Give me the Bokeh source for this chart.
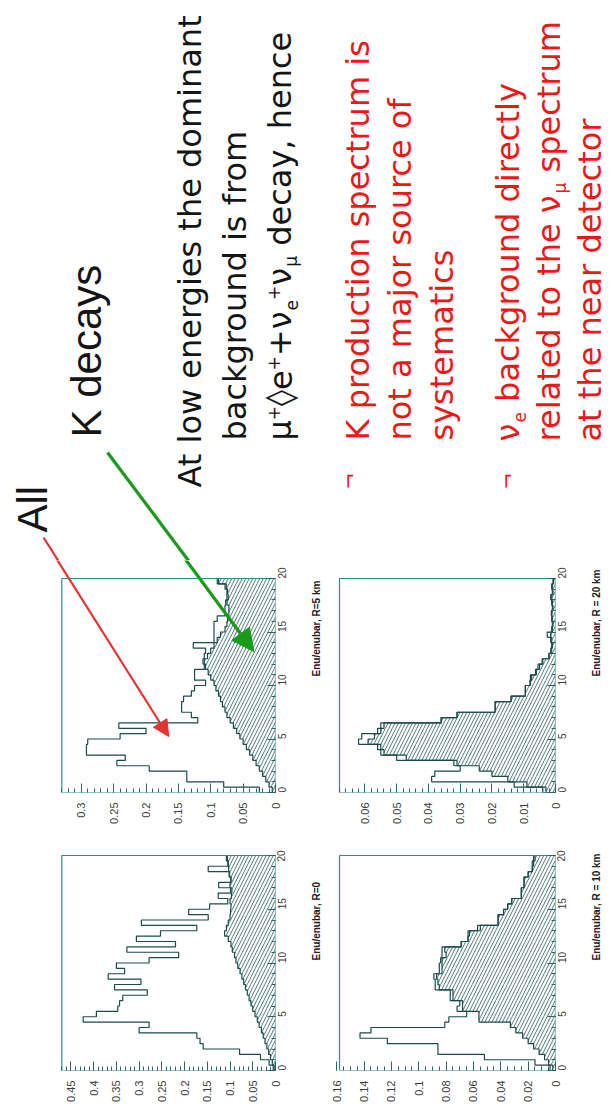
import math
from bokeh.plotting import figure
from bokeh.layouts import column, row
from bokeh.models import Range1d, FixedTicker, Arrow, NormalHead
from bokeh.core.properties import value
from bokeh.embed import file_html
from bokeh.resources import INLINE

# ---------------------------------------------------------------- data
BIN_WIDTH = 0.5
E_MAX = 20

# R = 0
all_R0 = [0.005, 0.014, 0.033, 0.079, 0.159, 0.166, 0.173, 0.300, 0.278, 0.423,
          0.394, 0.347, 0.343, 0.336, 0.282, 0.354, 0.296, 0.368, 0.332, 0.350,
          0.278, 0.213, 0.327, 0.220, 0.306, 0.253, 0.173, 0.295, 0.148, 0.191,
          0.145, 0.105, 0.126, 0.099, 0.125, 0.098, 0.102, 0.148, 0.105, 0.108]
k_R0 = [0.003, 0.007, 0.011, 0.015, 0.019, 0.023, 0.027, 0.031, 0.036, 0.040,
        0.045, 0.050, 0.054, 0.058, 0.062, 0.066, 0.070, 0.074, 0.078, 0.083,
        0.087, 0.090, 0.095, 0.098, 0.104, 0.112, 0.108, 0.104, 0.100, 0.099,
        0.098, 0.100, 0.097, 0.096, 0.100, 0.098, 0.101, 0.103, 0.104, 0.106]

# R = 5 km
all_R5 = [0.025, 0.080, 0.137, 0.137, 0.195, 0.245, 0.232, 0.292, 0.292, 0.290,
          0.240, 0.200, 0.242, 0.120, 0.130, 0.145, 0.145, 0.142, 0.130, 0.125,
          0.108, 0.125, 0.125, 0.110, 0.112, 0.110, 0.108, 0.127, 0.095, 0.095,
          0.095, 0.095, 0.090, 0.078, 0.078, 0.077, 0.075, 0.075, 0.078, 0.090]
k_R5 = [0.005, 0.010, 0.015, 0.020, 0.025, 0.030, 0.035, 0.040, 0.045, 0.050,
        0.055, 0.060, 0.065, 0.070, 0.075, 0.078, 0.082, 0.085, 0.088, 0.092,
        0.095, 0.100, 0.104, 0.108, 0.110, 0.105, 0.100, 0.095, 0.090, 0.085,
        0.078, 0.075, 0.074, 0.072, 0.072, 0.075, 0.073, 0.074, 0.076, 0.088]

# R = 10 km
all_R10 = [0.004, 0.015, 0.052, 0.086, 0.086, 0.123, 0.143, 0.135, 0.081, 0.078,
           0.065, 0.072, 0.070, 0.077, 0.077, 0.088, 0.088, 0.089, 0.085, 0.085,
           0.084, 0.083, 0.083, 0.069, 0.064, 0.064, 0.057, 0.042, 0.042, 0.038,
           0.035, 0.032, 0.025, 0.025, 0.023, 0.023, 0.020, 0.017, 0.017, 0.016]
k_R10 = [0.002, 0.005, 0.008, 0.012, 0.016, 0.020, 0.024, 0.029, 0.033, 0.056,
         0.056, 0.068, 0.068, 0.075, 0.075, 0.085, 0.086, 0.087, 0.083, 0.083,
         0.083, 0.080, 0.081, 0.069, 0.064, 0.063, 0.055, 0.042, 0.042, 0.038,
         0.035, 0.032, 0.025, 0.025, 0.023, 0.023, 0.020, 0.017, 0.016, 0.015]

# R = 20 km
all_R20 = [0.004, 0.013, 0.039, 0.038, 0.030, 0.032, 0.050, 0.055, 0.056, 0.062,
           0.061, 0.056, 0.055, 0.036, 0.031, 0.019, 0.019, 0.014, 0.0095, 0.0095,
           0.0080, 0.0079, 0.0063, 0.0055, 0.0042, 0.0021, 0.0015, 0.0012, 0.0015, 0.0026,
           0.0012, 0.0010, 0.0012, 0.0013, 0.0010, 0.0012, 0.0015, 0.0010, 0.0012, 0.0008]
k_R20 = [0.003, 0.009, 0.015, 0.020, 0.024, 0.031, 0.047, 0.054, 0.055, 0.059,
         0.057, 0.055, 0.054, 0.036, 0.031, 0.019, 0.019, 0.014, 0.0095, 0.0095,
         0.0080, 0.0075, 0.0060, 0.0050, 0.0040, 0.0020, 0.0012, 0.0010, 0.0012, 0.0015,
         0.0010, 0.0008, 0.0010, 0.0011, 0.0008, 0.0010, 0.0012, 0.0008, 0.0010, 0.0006]

# axis ticks
energy_ticks = [0, 5, 10, 15, 20]
energy_tick_labels = ["0", "5", "10", "15", "20"]
ticks_R0 = [0, 0.05, 0.1, 0.15, 0.2, 0.25, 0.3, 0.35, 0.4, 0.45]
labels_R0 = ["0", "0.05", "0.1", "0.15", "0.2", "0.25", "0.3", "0.35", "0.4", "0.45"]
ticks_R5 = [0, 0.05, 0.1, 0.15, 0.2, 0.25, 0.3]
labels_R5 = ["0", "0.05", "0.1", "0.15", "0.2", "0.25", "0.3"]
ticks_R10 = [0, 0.02, 0.04, 0.06, 0.08, 0.1, 0.12, 0.14, 0.16]
labels_R10 = ["0", "0.02", "0.04", "0.06", "0.08", "0.1", "0.12", "0.14", "0.16"]
ticks_R20 = [0, 0.01, 0.02, 0.03, 0.04, 0.05, 0.06]
labels_R20 = ["0", "0.01", "0.02", "0.03", "0.04", "0.05", "0.06"]

# ---------------------------------------------------------------- style
BOX = "#2f8c8c"
HIST = "#1b4b4b"
HATCH = "#4d7878"
TICK = "#2a6464"
LBL = "#3c3c3c"
RED = "#ee1717"
GREEN = "#1a9a1a"
BLACK = "#151515"
ROT = math.pi / 2
TOP_H = 560


def step_path(vals):
    xs, ys = [0.0], [0.0]
    for i, v in enumerate(vals):
        xs += [v, v]
        ys += [i * BIN_WIDTH, (i + 1) * BIN_WIDTH]
    xs.append(0.0)
    ys.append(E_MAX)
    return xs, ys


def panel(width, height, box_l, box_r, box_t, box_b, vmax, ticks, labels, minor_step,
          all_vals, k_vals, axis_label):
    x_start = vmax * box_r / (box_r - box_l)
    y_end = E_MAX * box_b / (box_b - box_t)
    p = figure(width=width, height=height,
               x_range=Range1d(x_start, 0), y_range=Range1d(0, y_end),
               x_axis_location="below", y_axis_location="right",
               toolbar_location=None, output_backend="svg",
               min_border_left=0, min_border_top=0,
               min_border_right=width - box_r, min_border_bottom=height - box_b,
               outline_line_color=None, background_fill_color="white",
               border_fill_color="white")
    p.grid.visible = False

    centers = [(i + 0.5) * BIN_WIDTH for i in range(len(k_vals))]
    p.hbar(y=centers, height=BIN_WIDTH, left=0, right=k_vals,
           fill_color=None, line_color=None,
           hatch_pattern="/", hatch_color=HATCH, hatch_scale=7, hatch_weight=1)
    kx, ky = step_path(k_vals)
    p.line(kx, ky, line_color=HIST, line_width=1.2)
    ax_, ay_ = step_path(all_vals)
    p.line(ax_, ay_, line_color=HIST, line_width=1.2)
    p.quad(left=[vmax], right=[0], bottom=[0], top=[E_MAX],
           fill_color=None, line_color=BOX, line_width=1.2)

    nminor = int(round(vmax / minor_step)) + 1
    xa = p.xaxis[0]
    xa.ticker = FixedTicker(ticks=ticks,
                            minor_ticks=[round(i * minor_step, 4) for i in range(nminor)])
    xa.major_label_overrides = dict(zip(ticks, labels))
    xa.bounds = (0, vmax)
    xa.major_label_orientation = ROT
    xa.axis_line_color = None
    xa.major_tick_in, xa.major_tick_out = 9, 0
    xa.minor_tick_in, xa.minor_tick_out = 4, 0
    xa.major_tick_line_color = TICK
    xa.minor_tick_line_color = TICK
    xa.major_label_text_font = "Liberation Sans"
    xa.major_label_text_font_size = "11px"
    xa.major_label_text_color = LBL
    xa.major_label_standoff = 10

    ya = p.yaxis[0]
    ya.ticker = FixedTicker(ticks=energy_ticks, minor_ticks=list(range(0, 21)))
    ya.major_label_overrides = dict(zip(energy_ticks, energy_tick_labels))
    ya.bounds = (0, E_MAX)
    ya.major_label_orientation = ROT
    ya.axis_line_color = None
    ya.major_tick_in, ya.major_tick_out = 8, 0
    ya.minor_tick_in, ya.minor_tick_out = 4, 0
    ya.major_tick_line_color = TICK
    ya.minor_tick_line_color = TICK
    ya.major_label_text_font = "Liberation Sans"
    ya.major_label_text_font_size = "10px"
    ya.major_label_text_color = LBL
    ya.major_label_standoff = 6
    ya.axis_label = axis_label
    ya.axis_label_text_font = "Liberation Sans"
    ya.axis_label_text_font_style = "bold"
    ya.axis_label_text_font_size = "10px"
    ya.axis_label_text_color = "#202020"
    ya.axis_label_standoff = 24
    try:
        ya.axis_label_orientation = ROT
    except Exception:
        pass
    return p


# ---------------------------------------------------------------- panels
# (width, height, box left, box right, box top, box bottom) in each figure's canvas px
GEO_UP_L = (330, 290, 62, 278, 18, 232)
GEO_LO_L = (330, 265, 62, 278, 5, 220)
GEO_UP_R = (281, 290, 9, 225, 18, 232)
GEO_LO_R = (281, 265, 9, 225, 5, 220)
VMAX_R5, VMAX_R0, VMAX_R20, VMAX_R10 = 0.33, 0.47, 0.068, 0.158

F5 = panel(*GEO_UP_L, VMAX_R5, ticks_R5, labels_R5, 0.01, all_R5, k_R5, "Enu/enubar, R=5 km")
F0 = panel(*GEO_LO_L, VMAX_R0, ticks_R0, labels_R0, 0.01, all_R0, k_R0, "Enu/enubar, R=0")
F20 = panel(*GEO_UP_R, VMAX_R20, ticks_R20, labels_R20, 0.002, all_R20, k_R20,
            "Enu/enubar, R = 20 km")
F10 = panel(*GEO_LO_R, VMAX_R10, ticks_R10, labels_R10, 0.005, all_R10, k_R10,
            "Enu/enubar, R = 10 km")

# ---------------------------------------------------------------- text page
T = figure(width=611, height=TOP_H, x_range=Range1d(0, 611), y_range=Range1d(TOP_H, 0),
           x_axis_location=None, y_axis_location=None, toolbar_location=None,
           output_backend="svg", min_border=0, outline_line_color=None,
           background_fill_color="white", border_fill_color="white")
T.grid.visible = False

DV = {' ': .318, ',': .318, '+': .838, 'a': .613, 'b': .635, 'c': .550, 'd': .635,
      'e': .615, 'f': .352, 'g': .635, 'h': .634, 'i': .278, 'j': .278, 'k': .579,
      'l': .278, 'm': .974, 'n': .634, 'o': .612, 'p': .635, 'r': .411, 's': .521,
      't': .392, 'u': .634, 'y': .592, 'μ': .636, 'ν': .592, '◊': .494}

BODY_FONT = "DejaVu Sans"
BODY = 32
SMALL = 17
BASE_SHIFT = 0.39   # rendered baseline sits this fraction of the size right of the anchor


def vtext(fig, xb, y, txt, size, color, font, style="normal"):
    # xb: wanted baseline position (page px)
    fig.text(x=[xb - BASE_SHIFT * size], y=[y], text=[txt], angle=ROT,
             text_font=value(font), text_font_size=f"{size}px", text_color=color,
             text_align="left", text_baseline="alphabetic", text_font_style=style)


def runs(fig, xb, y0, parts, color):
    y = y0
    for txt, kind in parts:
        if kind == "n":
            fs, dx = BODY, 0
        elif kind == "sup":
            fs, dx = SMALL, -0.38 * BODY
        else:
            fs, dx = SMALL, 0.17 * BODY
        lead = len(txt) - len(txt.lstrip(" "))
        y -= lead * DV[' '] * fs
        body = txt.lstrip(" ")
        vtext(fig, xb + dx, y, body, fs, color, BODY_FONT)
        y -= sum(DV.get(c, 0.6) for c in body) * fs


vtext(T, 48, 532, "All", 42, BLACK, "Liberation Sans")
vtext(T, 102, 437, "K decays", 42, BLACK, "Liberation Sans")

vtext(T, 202, 487, "At low energies the dominant", BODY, BLACK, BODY_FONT)
vtext(T, 247, 440, "background is from", BODY, BLACK, BODY_FONT)
runs(T, 292, 440, [("μ", "n"), ("+", "sup"), ("◊", "n"), ("e", "n"), ("+", "sup"),
                   ("+ν", "n"), ("e", "sub"), ("+", "sup"), ("ν", "n"), ("μ", "sub"),
                   (" decay, hence", "n")], BLACK)

vtext(T, 356, 489, "¬", 20, RED, BODY_FONT)
vtext(T, 370, 440, "K production spectrum is", BODY, RED, BODY_FONT)
vtext(T, 412, 440, "not a major source of", BODY, RED, BODY_FONT)
vtext(T, 454, 440, "systematics", BODY, RED, BODY_FONT)

vtext(T, 514, 489, "¬", 20, RED, BODY_FONT)
runs(T, 520, 441, [("ν", "n"), ("e", "sub"), (" background directly", "n")], RED)
runs(T, 561, 441, [("related to the ν", "n"), ("μ", "sub"), (" spectrum", "n")], RED)
vtext(T, 602, 441, "at the near detector", BODY, RED, BODY_FONT)

# ---------------------------------------------------------------- arrows (page pixels)
RED_START, RED_TIP = (43.0, 537.0), (170.0, 736.0)
GREEN_START, GREEN_TIP = (107.0, 452.0), (256.0, 651.0)
OVERLAP = 6  # both pieces run a little past the seam between the two figures


def at_y(start, tip, yline):
    t = (yline - start[1]) / (tip[1] - start[1])
    return start[0] + t * (tip[0] - start[0])


def f5_xy(px, py):
    _, _, bl, br, bt, bb = GEO_UP_L
    v = (br - px) * VMAX_R5 / (br - bl)
    e = (bb - (py - TOP_H)) * E_MAX / (bb - bt)
    return v, e


for (st, tp, col, lw, hs) in [(RED_START, RED_TIP, "#e63232", 2.2, 16),
                              (GREEN_START, GREEN_TIP, GREEN, 3.2, 22)]:
    y_lo = TOP_H + OVERLAP
    T.segment(x0=[st[0]], y0=[st[1]], x1=[at_y(st, tp, y_lo)], y1=[y_lo],
              line_color=col, line_width=lw)
    y_hi = TOP_H - OVERLAP
    v0, e0 = f5_xy(at_y(st, tp, y_hi), y_hi)
    v1, e1 = f5_xy(*tp)
    F5.add_layout(Arrow(x_start=v0, y_start=e0, x_end=v1, y_end=e1,
                        line_color=col, line_width=lw,
                        end=NormalHead(size=hs, fill_color=col, line_color=col)))

layout = column(T, row(column(F5, F0), column(F20, F10)))
open("out.html", "w").write(file_html(layout, INLINE))
